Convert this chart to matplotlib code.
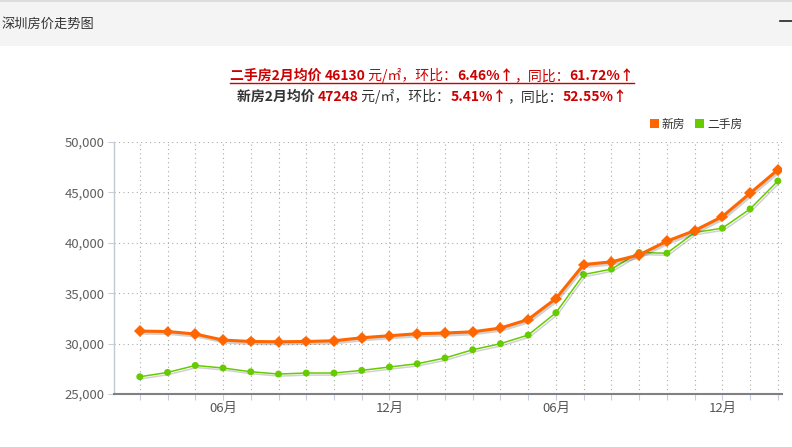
import matplotlib
matplotlib.use('Agg')
import matplotlib.pyplot as plt
import matplotlib.patheffects as pe
from matplotlib.patches import Rectangle
from matplotlib.lines import Line2D
from matplotlib.ticker import FuncFormatter

plt.rcParams['font.family'] = ['Noto Sans CJK SC', 'DejaVu Sans']
plt.rcParams['axes.unicode_minus'] = False

# 月份 (2014-03 ~ 2016-02)
months = ['03', '04', '05', '06', '07', '08', '09', '10', '11', '12', '01', '02',
          '03', '04', '05', '06', '07', '08', '09', '10', '11', '12', '01', '02']
# 新房均价
new_price = [31240, 31200, 30950, 30350, 30210, 30180, 30210, 30280, 30580, 30780, 30980, 31050,
             31170, 31540, 32390, 34470, 37840, 38110, 38800, 40160, 41210, 42600, 44920, 47248]
# 二手房均价
second_price = [26710, 27140, 27830, 27580, 27210, 26980, 27080, 27080, 27340, 27680, 28000, 28570,
                29390, 29990, 30850, 33060, 36850, 37390, 39030, 38970, 41020, 41450, 43360, 46130]
yticks = [25000, 30000, 35000, 40000, 45000, 50000]

RED = '#cc0000'
DARK = '#333333'
ORANGE = '#ff6600'
GREEN = '#66cc00'

fig = plt.figure(figsize=(7.92, 4.47), dpi=100)
W, H = 792, 447

# 顶部标题栏
fig.patches.append(Rectangle((0, 1 - 46 / H), 1, 46 / H, transform=fig.transFigure,
                             facecolor='#f4f4f4', edgecolor='none', zorder=0))
fig.add_artist(Line2D([0, 1], [1 - 1 / H, 1 - 1 / H], transform=fig.transFigure,
                      color='#dddddd', linewidth=1.5))
fig.text(1 / W, 1 - 24 / H, '深圳房价走势图', fontsize=9.5, color=DARK, va='center', ha='left')
fig.add_artist(Line2D([780 / W, 1], [1 - 21 / H, 1 - 21 / H], transform=fig.transFigure,
                      color='#222222', linewidth=1.2))


def draw_segments(y_px, segs, cx=432, underline=None):
    r = fig.canvas.get_renderer()
    texts = []
    widths = []
    for s, color, weight in segs:
        t = fig.text(0, 1 - y_px / H, s, color=color, fontweight=weight,
                     fontsize=10, va='baseline', ha='left')
        widths.append(t.get_window_extent(r).width)
        texts.append(t)
    total = sum(widths)
    x = cx - total / 2
    x0 = x
    for t, w in zip(texts, widths):
        t.set_x(x / W)
        x += w
    if underline:
        fig.add_artist(Line2D([x0 / W, x / W], [1 - (y_px + 3) / H] * 2,
                              transform=fig.transFigure, color=underline, linewidth=1))


draw_segments(80, [('二手房2月均价 ', RED, 'bold'), ('46130', RED, 'bold'),
                   (' 元/㎡，环比：', RED, 'normal'), ('6.46%↑', RED, 'bold'),
                   ('，同比：', RED, 'normal'), ('61.72%↑', RED, 'bold')], underline=RED)
draw_segments(101, [('新房2月均价 ', DARK, 'bold'), ('47248', RED, 'bold'),
                    (' 元/㎡，环比：', DARK, 'normal'), ('5.41%↑', RED, 'bold'),
                    ('，同比：', DARK, 'normal'), ('52.55%↑', RED, 'bold')])

# 图例
for x0, color, label in [(650, ORANGE, '新房'), (695, GREEN, '二手房')]:
    fig.patches.append(Rectangle((x0 / W, 1 - 128 / H), 9 / W, 9 / H, transform=fig.transFigure,
                                 facecolor=color, edgecolor='none'))
    fig.text((x0 + 12) / W, 1 - 124 / H, label, fontsize=8.5, color=DARK, va='center')

# 主图
ax = fig.add_axes([114 / W, 1 - 394 / H, (782 - 114) / W, (394 - 142) / H])
x = list(range(len(months)))
shadow = [pe.SimpleLineShadow(offset=(1, -1.5), shadow_color='black', alpha=0.18), pe.Normal()]
ax.plot(x, second_price, color=GREEN, linewidth=1.1, marker='o', markersize=5,
        markeredgewidth=0, path_effects=shadow, zorder=3)
ax.plot(x, new_price, color=ORANGE, linewidth=2.2, marker='D', markersize=6,
        markeredgewidth=0, path_effects=shadow, zorder=4)

ax.set_xlim(-0.93, 23.15)
ax.set_ylim(25000, 50000)
ax.set_yticks(yticks)
ax.yaxis.set_major_formatter(FuncFormatter(lambda v, p: f'{int(v):,}'))
ax.set_xticks(x)
ax.set_xticklabels([f'{m}月' if m in ('06', '12') else '' for m in months])
ax.grid(True, linestyle=(0, (1, 3)), color='#aaaaaa', linewidth=0.8)
ax.set_axisbelow(True)

for s in ('top', 'right'):
    ax.spines[s].set_visible(False)
ax.spines['left'].set_color('#c0c8d0')
ax.spines['left'].set_linewidth(1)
ax.spines['bottom'].set_color('#808080')
ax.spines['bottom'].set_linewidth(1.5)
ax.tick_params(axis='y', length=4, color='#c0d0e0', labelsize=9.5, labelcolor='#606060', pad=3)
ax.tick_params(axis='x', length=4, color='#c0d0e0', labelsize=9.5, labelcolor='#555555', pad=2)

fig.savefig('out.png', dpi=100)
